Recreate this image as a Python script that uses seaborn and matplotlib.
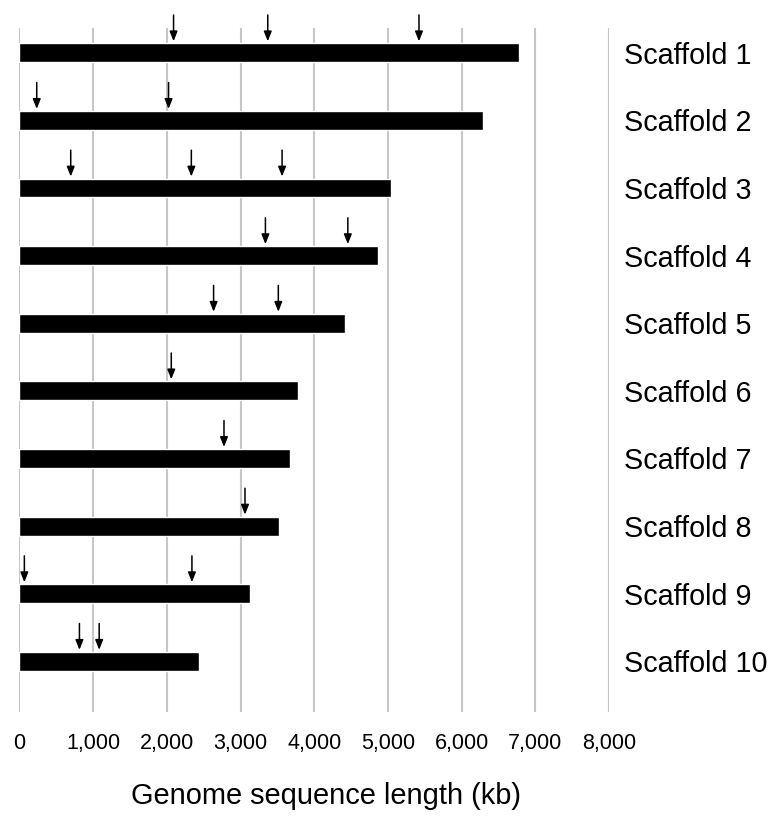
import matplotlib
matplotlib.use("Agg")
import matplotlib.pyplot as plt
import pandas as pd
import seaborn as sns

sns.set_theme(style="white")
plt.rcParams['font.family'] = ['Liberation Sans', 'DejaVu Sans']

scaffolds = [f"Scaffold {i}" for i in range(1, 11)]
lengths_kb = [6782, 6294, 5042, 4861, 4414, 3776, 3677, 3523, 3125, 2438]
# arrow marks along each scaffold (kb)
marks_kb = [
    [2091, 3369, 5420],
    [235, 2023],
    [696, 2332, 3563],
    [3337, 4455],
    [2634, 3512],
    [2060],
    [2775],
    [3060],
    [67, 2340],
    [814, 1082],
]
xticks = list(range(0, 9000, 1000))

df = pd.DataFrame({'Scaffold': scaffolds, 'Length': lengths_kb})

fig = plt.figure(figsize=(7.83, 8.27), dpi=100)
ax = fig.add_axes([0.0248, 0.139, 0.7532, 0.827])

sns.barplot(data=df, x='Length', y='Scaffold', orient='h', color='black',
            width=0.28, saturation=1, ax=ax, zorder=3)

for i, xs in enumerate(marks_kb):
    for x in xs:
        ax.annotate('', xy=(x, i - 0.17), xytext=(x, i - 0.56),
                    arrowprops=dict(arrowstyle='-|>,head_length=0.45,head_width=0.18',
                                    color='black', lw=1.1, mutation_scale=13,
                                    shrinkA=0, shrinkB=0), zorder=4)

ax.set_xlim(0, 8000)
ax.set_ylim(9.75, -0.365)
ax.set_xticks(xticks)
ax.set_xticklabels([f"{v:,}" for v in xticks])
ax.xaxis.grid(True, color='#c6c6c6', lw=1.5, zorder=0)
ax.set_axisbelow(True)
for s in ax.spines.values():
    s.set_visible(False)

ax.yaxis.tick_right()
ax.tick_params(axis='y', length=0, pad=10.5, labelsize=20.7, colors='black')
ax.tick_params(axis='x', length=0, pad=15, labelsize=15.5, colors='black')
ax.set_ylabel('')
ax.set_xlabel('Genome sequence length (kb)', fontsize=20.9, color='black')
ax.xaxis.set_label_coords(0.5204, -0.103)

fig.savefig('out.png', dpi=100)
